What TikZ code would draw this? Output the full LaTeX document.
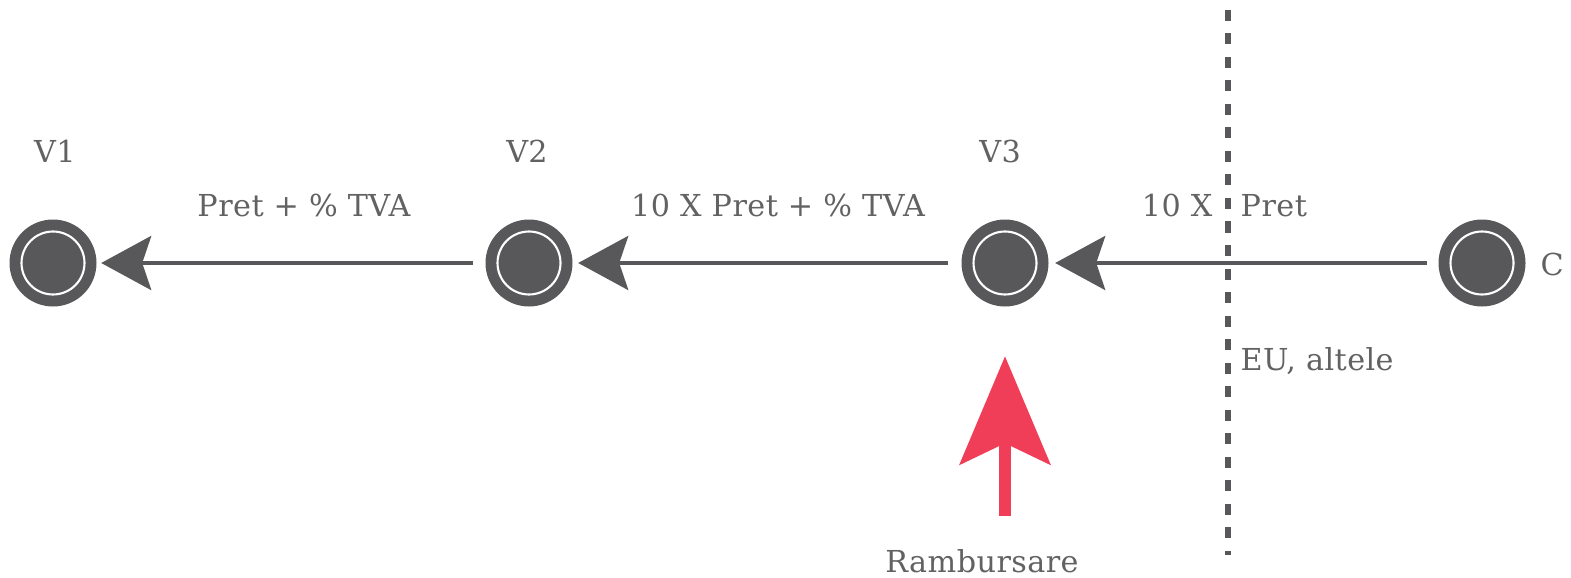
\documentclass[tikz,border=0pt]{standalone}
\usepackage{fontspec}
\setmainfont{DejaVu Serif}
\usepackage{tikz}
\usetikzlibrary{arrows.meta}
\definecolor{dgray}{RGB}{88,88,90}
\definecolor{tgray}{RGB}{98,98,98}
\definecolor{rred}{RGB}{240,62,88}

\begin{document}
\begin{tikzpicture}[>={Stealth[length=0.5cm,width=0.54cm,inset=0.09cm]},
	main node/.style={circle,fill=dgray,minimum size=0.87cm,inner sep=0pt,
	  path picture={\draw[white,line width=0.6pt] (path picture bounding box.center) circle (0.315cm);}},
	label text/.style={text=tgray,font=\fontsize{8.6}{10}\selectfont\addfontfeatures{LetterSpace=1.5},inner sep=0pt,anchor=base},
	flow/.style={->,dgray,line width=0.04cm}]
	\useasboundingbox (0,0) rectangle (15.71,5.77);
	% Nodes
	  \node (V1) at (0.53, 3.14) [main node] {};
	  \node (V2) at (5.29, 3.14) [main node] {};
	  \node (V3) at (10.05, 3.14) [main node] {};
	  \node (C) at (14.82, 3.14) [main node] {};

	% Labels
	  \node (lV1) at (0.55, 4.14) [label text] {V1};
	  \node (lV2) at (5.27, 4.14) [label text] {V2};
	  \node (lV3) at (10.00, 4.14) [label text] {V3};
	  \node (lC) at (15.40, 3.02) [label text,anchor=base west] {C};
	  \node (p12) at (3.04, 3.61) [label text] {Pret + \% TVA};
	  \node (p23) at (7.78, 3.61) [label text] {10 X Pret + \% TVA};
	  \node (p3a) at (12.13, 3.61) [label text,anchor=base east] {10 X};
	  \node (p3b) at (12.40, 3.61) [label text,anchor=base west] {Pret};
	  \node (eu) at (12.40, 2.07) [label text,anchor=base west] {EU, altele};
	  \node (ramb) at (9.82, 0.05) [label text] {Rambursare};

	% Border
	  \coordinate (bt) at (12.28, 5.67);
	  \coordinate (bb) at (12.28, 0.22);
	  \draw[dgray,line width=0.055cm,dash pattern=on 0.11cm off 0.125cm] (bt) -- (bb);

	% Edges
	  \draw[flow,shorten >=0.04cm,shorten <=0.12cm] (V2) -- (V1);
	  \draw[flow,shorten >=0.05cm,shorten <=0.13cm] (V3) -- (V2);
	  \draw[flow,shorten >=0.06cm,shorten <=0.11cm] (C) -- (V3);

	% Refund
	  \coordinate (rb) at (10.05, 0.61);
	  \draw[-{Stealth[length=1.08cm,width=0.9cm,inset=0.21cm]},rred,line width=0.12cm,shorten >=0.49cm] (rb) -- (V3.south -| rb);
\end{tikzpicture}
\end{document}
